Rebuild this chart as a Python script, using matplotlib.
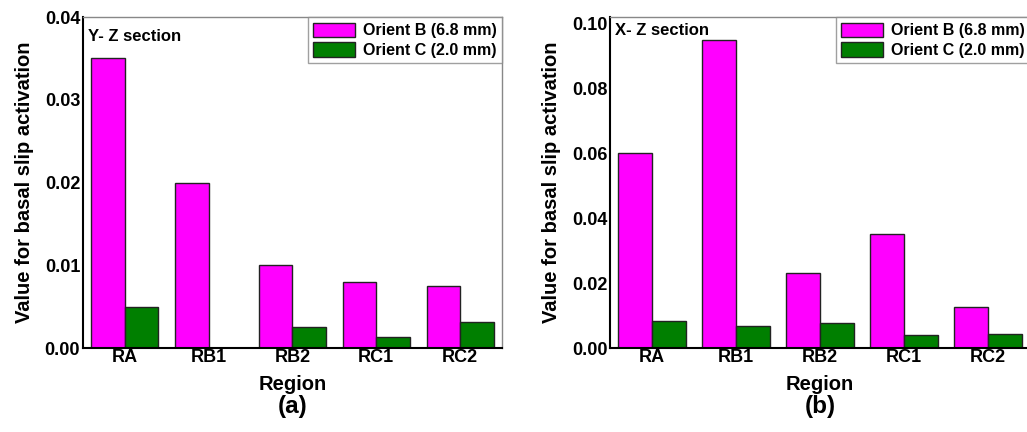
import numpy as np
import matplotlib.pyplot as plt

plt.rcParams['font.family'] = ['Liberation Sans', 'DejaVu Sans']
plt.rcParams['font.weight'] = 'bold'

regions = ['RA', 'RB1', 'RB2', 'RC1', 'RC2']

# Y-Z section
yz_orient_b = [0.035, 0.020, 0.010, 0.008, 0.0075]
yz_orient_c = [0.005, 0.0, 0.0025, 0.0013, 0.0032]

# X-Z section
xz_orient_b = [0.060, 0.095, 0.023, 0.035, 0.0125]
xz_orient_c = [0.0083, 0.0069, 0.0076, 0.0040, 0.0042]

magenta = '#ff00ff'
green = '#007f00'

fig = plt.figure(figsize=(10.27, 4.32), dpi=100)
ax1 = fig.add_axes([0.0808, 0.1944, 0.408, 0.7662])
ax2 = fig.add_axes([0.594, 0.1944, 0.409, 0.7662])


def draw_panel(ax, vals_b, vals_c, ymax, yticks, section, sec_y, letter):
    x = np.arange(len(regions))
    w = 0.4
    ax.bar(x - w / 2, vals_b, w, color=magenta, edgecolor='#222222', linewidth=1.0,
           label='Orient B (6.8 mm)')
    ax.bar(x + w / 2, vals_c, w, color=green, edgecolor='#222222', linewidth=1.0,
           label='Orient C (2.0 mm)')
    ax.set_xlim(-0.5, len(regions) - 0.5)
    ax.set_ylim(0, ymax)
    ax.set_xticks(x)
    ax.set_xticklabels(regions, fontsize=13, fontweight='bold')
    ax.set_yticks(yticks)
    ax.set_yticklabels(['%.2f' % t for t in yticks], fontsize=13, fontweight='bold')
    ax.tick_params(length=0, pad=2)
    ax.tick_params(axis='x', pad=1)
    ax.set_xlabel('Region', fontsize=14.5, fontweight='bold', labelpad=6)
    ax.set_ylabel('Value for basal slip activation', fontsize=14.5, fontweight='bold', labelpad=8)
    ax.spines['left'].set_linewidth(1.5)
    ax.spines['bottom'].set_linewidth(1.5)
    ax.spines['top'].set_color('#888888')
    ax.spines['right'].set_color('#888888')
    ax.spines['top'].set_linewidth(1.0)
    ax.spines['right'].set_linewidth(1.0)
    ax.text(0.012, sec_y, section, transform=ax.transAxes, fontsize=12,
            fontweight='bold', va='center', ha='left')
    leg = ax.legend(loc='upper right', borderaxespad=0, fontsize=11.5, frameon=True,
                    fancybox=False, handlelength=2.6, handleheight=1.0,
                    handletextpad=0.5, borderpad=0.35, labelspacing=0.25)
    leg.get_frame().set_edgecolor('#888888')
    leg.get_frame().set_linewidth(1.0)
    for t in leg.get_texts():
        t.set_fontweight('bold')
    ax.text(0.5, -0.142, letter, transform=ax.transAxes, fontsize=17.5,
            fontweight='bold', ha='center', va='top')


draw_panel(ax1, yz_orient_b, yz_orient_c, 0.04, [0.0, 0.01, 0.02, 0.03, 0.04],
           'Y- Z section', 0.94, '(a)')
draw_panel(ax2, xz_orient_b, xz_orient_c, 0.102, [0.0, 0.02, 0.04, 0.06, 0.08, 0.10],
           'X- Z section', 0.96, '(b)')

fig.savefig('out.png', dpi=100)
